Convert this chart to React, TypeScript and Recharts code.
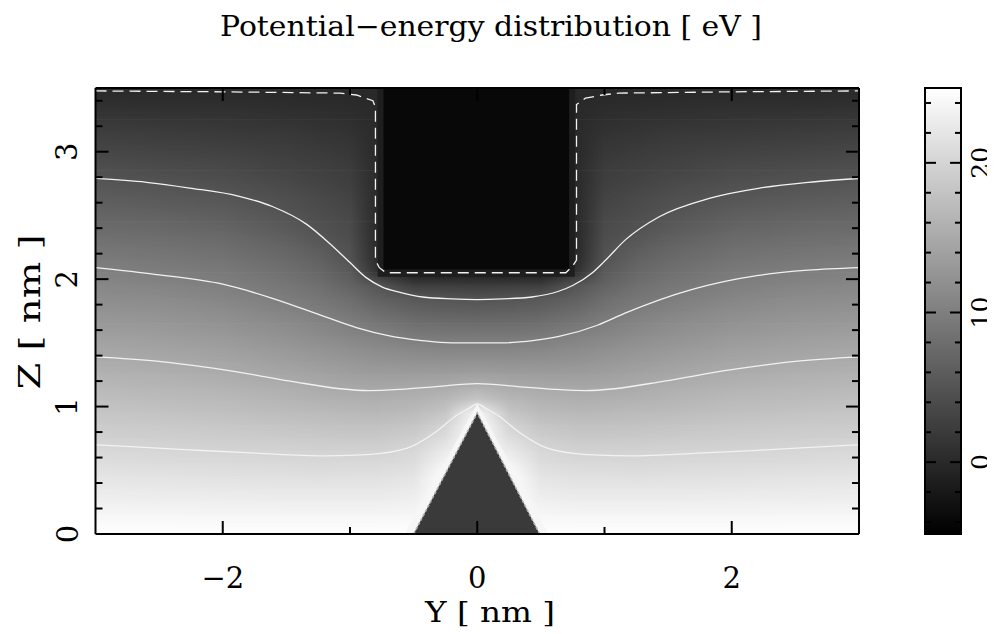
import React from 'react';
import { ComposedChart, XAxis, YAxis, ReferenceArea, Line, Area } from 'recharts';

// ---------- data ----------
const V_MIN = -4.8;
const V_MAX = 25;

// half-grid columns (Y >= 0, mirrored for Y < 0)
const yCols = [0, 0.25, 0.5, 0.8, 1.0, 1.25, 1.5, 2.0, 2.5, 3.0];
const zRows = [0.05, 0.15, 0.25, 0.35, 0.45, 0.55, 0.65, 0.75, 0.85, 0.95, 1.05, 1.15, 1.25, 1.35, 1.45, 1.55, 1.65, 1.75, 1.85, 1.95, 2.05, 2.15, 2.25, 2.35, 2.45, 2.55, 2.65, 2.75, 2.85, 2.95, 3.05, 3.15, 3.25, 3.35, 3.45];
const potentialRows = [
  [25, 25, 24.7, 24.6, 24.6, 24.6, 24.6, 24.6, 24.6, 24.6],
  [25, 25, 24.0, 23.8, 23.8, 23.8, 23.8, 23.8, 23.9, 23.9],
  [25, 25, 23.3, 23.0, 23.0, 23.0, 23.0, 23.1, 23.1, 23.2],
  [25, 25, 22.5, 22.2, 22.2, 22.2, 22.2, 22.3, 22.4, 22.5],
  [25, 25, 21.8, 21.4, 21.4, 21.3, 21.4, 21.5, 21.7, 21.8],
  [25, 23.8, 21.0, 20.6, 20.6, 20.5, 20.6, 20.8, 20.9, 21.1],
  [25, 22.5, 20.3, 19.7, 19.7, 19.7, 19.8, 20.0, 20.2, 20.4],
  [25, 21.2, 19.3, 18.7, 18.7, 18.8, 18.9, 19.2, 19.4, 19.6],
  [25, 19.8, 18.2, 17.7, 17.7, 17.9, 18.1, 18.4, 18.7, 18.9],
  [24.0, 18.3, 17.1, 16.7, 16.8, 17.0, 17.2, 17.6, 18.0, 18.2],
  [18.5, 16.7, 16.0, 15.7, 15.8, 16.0, 16.3, 16.9, 17.2, 17.5],
  [15.9, 15.2, 14.9, 14.7, 14.8, 15.1, 15.5, 16.1, 16.5, 16.7],
  [13.9, 13.7, 13.6, 13.6, 13.8, 14.2, 14.6, 15.3, 15.8, 16.0],
  [12.3, 12.2, 12.3, 12.5, 12.8, 13.3, 13.8, 14.6, 15.0, 15.3],
  [10.8, 10.8, 11.0, 11.5, 11.9, 12.5, 13.0, 13.8, 14.3, 14.6],
  [9.3, 9.3, 9.6, 10.4, 10.9, 11.6, 12.2, 13.1, 13.6, 13.9],
  [7.8, 7.9, 8.2, 9.1, 9.9, 10.7, 11.4, 12.3, 12.8, 13.1],
  [6.3, 6.4, 6.8, 7.8, 8.9, 9.8, 10.5, 11.6, 12.1, 12.4],
  [4.8, 5.0, 5.4, 6.5, 7.9, 9.0, 9.7, 10.8, 11.4, 11.7],
  [2.2, 2.3, 2.5, 5.2, 6.8, 8.2, 9.0, 10.1, 10.6, 11.0],
  [-1.5, -1.5, -1.5, 1.5, 5.8, 7.4, 8.3, 9.4, 9.9, 10.3],
  [-4.3, -4.3, -4.3, 0.6, 4.9, 6.6, 7.6, 8.7, 9.2, 9.6],
  [-4.3, -4.3, -4.3, 0.4, 4.5, 5.8, 6.9, 8.0, 8.5, 8.9],
  [-4.3, -4.3, -4.3, 0.4, 4.1, 5.0, 6.1, 7.3, 7.8, 8.1],
  [-4.3, -4.3, -4.3, 0.4, 3.8, 4.6, 5.4, 6.5, 7.1, 7.4],
  [-4.3, -4.3, -4.3, 0.3, 3.4, 4.1, 4.8, 5.8, 6.3, 6.7],
  [-4.3, -4.3, -4.3, 0.3, 3.0, 3.7, 4.3, 5.1, 5.6, 6.0],
  [-4.3, -4.3, -4.3, 0.3, 2.6, 3.2, 3.7, 4.5, 4.9, 5.3],
  [-4.3, -4.3, -4.3, 0.3, 2.3, 2.8, 3.2, 3.9, 4.2, 4.6],
  [-4.3, -4.3, -4.3, 0.2, 1.9, 2.3, 2.7, 3.3, 3.5, 3.8],
  [-4.3, -4.3, -4.3, 0.2, 1.5, 1.9, 2.2, 2.6, 2.8, 3.1],
  [-4.3, -4.3, -4.3, 0.2, 1.1, 1.4, 1.7, 2.0, 2.2, 2.4],
  [-4.3, -4.3, -4.3, 0.1, 0.7, 0.9, 1.1, 1.4, 1.5, 1.7],
  [-4.3, -4.3, -4.3, 0.1, 0.4, 0.5, 0.6, 0.8, 0.8, 0.9],
  [-4.3, -4.3, -4.3, 0.0, 0.0, 0.0, 0.1, 0.1, 0.2, 0.2],
];

// tip (conductor) regions
const tipOuter = { y1: -0.782, y2: 0.766, z1: 2.018, z2: 3.5, v: -1.3 };
const tipInner = { y1: -0.737, y2: 0.722, z1: 2.075, z2: 3.5, v: -3.9 };

// pyramid (sample) and its bright halo
const haloTriangle = [{ y: -0.57, z: 0 }, { y: 0, z: 1.02 }, { y: 0.56, z: 0 }];
const pyramid = [{ y: -0.5, z: 0 }, { y: 0, z: 0.95 }, { y: 0.49, z: 0 }];
const PYRAMID_V = 2.0;

// contour lines (Y, Z)
const contour0 = [
  { y: -3, z: 3.477 }, { y: -2, z: 3.47 }, { y: -1.08, z: 3.46 }, { y: -0.95, z: 3.445 },
  { y: -0.82, z: 3.40 }, { y: -0.80, z: 3.35 }, { y: -0.80, z: 2.15 }, { y: -0.77, z: 2.09 },
  { y: -0.716, z: 2.05 }, { y: 0.696, z: 2.05 }, { y: 0.748, z: 2.10 }, { y: 0.78, z: 2.15 },
  { y: 0.78, z: 3.37 }, { y: 0.85, z: 3.42 }, { y: 0.98, z: 3.445 }, { y: 1.11, z: 3.46 },
  { y: 2, z: 3.47 }, { y: 3, z: 3.477 },
];
const contour5 = [
  { y: -3, z: 2.79 }, { y: -2.6, z: 2.76 }, { y: -2.26, z: 2.715 }, { y: -1.87, z: 2.65 },
  { y: -1.61, z: 2.57 }, { y: -1.34, z: 2.43 }, { y: -1.16, z: 2.28 }, { y: -1.0, z: 2.13 },
  { y: -0.87, z: 2.01 }, { y: -0.75, z: 1.94 }, { y: -0.6, z: 1.895 }, { y: -0.43, z: 1.86 },
  { y: -0.2, z: 1.845 }, { y: 0, z: 1.84 }, { y: 0.2, z: 1.845 }, { y: 0.43, z: 1.86 },
  { y: 0.64, z: 1.905 }, { y: 0.75, z: 1.95 }, { y: 0.905, z: 2.05 }, { y: 1.0, z: 2.14 },
  { y: 1.166, z: 2.31 }, { y: 1.43, z: 2.49 }, { y: 1.83, z: 2.636 }, { y: 2.22, z: 2.715 },
  { y: 2.6, z: 2.76 }, { y: 3, z: 2.79 },
];
const contour10 = [
  { y: -3, z: 2.09 }, { y: -2.52, z: 2.036 }, { y: -2.0, z: 1.96 }, { y: -1.61, z: 1.85 },
  { y: -1.21, z: 1.71 }, { y: -0.95, z: 1.62 }, { y: -0.69, z: 1.555 }, { y: -0.45, z: 1.52 },
  { y: -0.2, z: 1.50 }, { y: 0, z: 1.50 }, { y: 0.2, z: 1.50 }, { y: 0.45, z: 1.52 },
  { y: 0.643, z: 1.55 }, { y: 0.95, z: 1.64 }, { y: 1.166, z: 1.735 }, { y: 1.69, z: 1.92 },
  { y: 2.21, z: 2.03 }, { y: 2.6, z: 2.07 }, { y: 3, z: 2.09 },
];
const contour15 = [
  { y: -3, z: 1.39 }, { y: -2.52, z: 1.357 }, { y: -2.0, z: 1.29 }, { y: -1.47, z: 1.20 },
  { y: -1.08, z: 1.14 }, { y: -0.85, z: 1.125 }, { y: -0.6, z: 1.135 }, { y: -0.32, z: 1.157 },
  { y: 0, z: 1.18 }, { y: 0.32, z: 1.157 }, { y: 0.6, z: 1.135 }, { y: 0.85, z: 1.125 },
  { y: 1.08, z: 1.14 }, { y: 1.47, z: 1.20 }, { y: 2.0, z: 1.29 }, { y: 2.52, z: 1.357 },
  { y: 3, z: 1.39 },
];
const contour20 = [
  { y: -3, z: 0.70 }, { y: -2.26, z: 0.66 }, { y: -1.74, z: 0.634 }, { y: -1.21, z: 0.613 },
  { y: -0.95, z: 0.619 }, { y: -0.77, z: 0.63 }, { y: -0.51, z: 0.69 }, { y: -0.3, z: 0.82 },
  { y: -0.17, z: 0.926 }, { y: -0.076, z: 0.98 }, { y: 0, z: 1.02 }, { y: 0.076, z: 0.98 },
  { y: 0.17, z: 0.926 }, { y: 0.3, z: 0.82 }, { y: 0.51, z: 0.69 }, { y: 0.77, z: 0.63 },
  { y: 0.95, z: 0.619 }, { y: 1.21, z: 0.613 }, { y: 1.74, z: 0.634 }, { y: 2.26, z: 0.66 },
  { y: 3, z: 0.70 },
];

// axes
const xTicks = [-2, -1, 0, 1, 2];
const xLabels = [-2, 0, 2];
const zTicks = [0, 0.2, 0.4, 0.6, 0.8, 1, 1.2, 1.4, 1.6, 1.8, 2, 2.2, 2.4, 2.6, 2.8, 3, 3.2, 3.4];
const zLabels = [0, 1, 2, 3];
const cbTicks = [-4, -2, 0, 2, 4, 6, 8, 10, 12, 14, 16, 18, 20, 22, 24];
const cbLabels = [0, 10, 20];
const cbLevels = [V_MIN, V_MAX];

// ---------- helpers ----------
const FONT = "'DejaVu Serif', serif";
const gray = (v: number) => {
  const t = Math.max(0, Math.min(1, (v - V_MIN) / (V_MAX - V_MIN)));
  const g = Math.round(t * 255);
  return `rgb(${g},${g},${g})`;
};
const fmt = (v: number) => (v < 0 ? `\u2212${Math.abs(v)}` : `${v}`);
const isIn = (arr: number[], v: number) => arr.some((a) => Math.abs(a - v) < 1e-6);

const rowStops = (row: number[]) => {
  const pts: { y: number; v: number }[] = [];
  for (let i = yCols.length - 1; i > 0; i--) pts.push({ y: -yCols[i], v: row[i] });
  for (let i = 0; i < yCols.length; i++) pts.push({ y: yCols[i], v: row[i] });
  return pts;
};

// bands: each spans from one row centre to the next, blending the two rows vertically
const bands = [
  { z1: 0, z2: zRows[0], lo: 0, hi: -1 },
  ...zRows.slice(0, -1).map((z, i) => ({ z1: z, z2: zRows[i + 1], lo: i, hi: i + 1 })),
  { z1: zRows[zRows.length - 1], z2: 3.5, lo: zRows.length - 1, hi: -1 },
];

const bandShape = (lo: number, hi: number) => (p: any) => (
  <g>
    <rect x={p.x} y={p.y} width={p.width} height={p.height} fill={`url(#row${lo})`} />
    {hi >= 0 && (
      <rect x={p.x} y={p.y} width={p.width} height={p.height} fill={`url(#row${hi})`} mask="url(#fadeUp)" />
    )}
  </g>
);

const makeXTick = (side: 'bottom' | 'top') => (props: any) => {
  const { x, y, payload } = props;
  const v = payload.value;
  const major = isIn(xLabels, v);
  const len = major ? 13 : 7;
  const d = side === 'bottom' ? -1 : 1;
  return (
    <g>
      <line x1={x} x2={x} y1={y} y2={y + d * len} stroke="#000" strokeWidth={2} />
      {side === 'bottom' && major && (
        <text x={x} y={y + 54} textAnchor="middle" fontFamily={FONT} fontSize={29} fill="#000">
          {fmt(v)}
        </text>
      )}
    </g>
  );
};

const makeZTick = (side: 'left' | 'right') => (props: any) => {
  const { x, y, payload } = props;
  const v = payload.value;
  const major = isIn(zLabels, v);
  const len = major ? 13 : 7;
  const d = side === 'left' ? 1 : -1;
  const bx = x - 18;
  return (
    <g>
      {v !== 0 && <line x1={x} x2={x + d * len} y1={y} y2={y} stroke="#000" strokeWidth={2} />}
      {side === 'left' && major && (
        <text x={bx} y={y} transform={`rotate(-90, ${bx}, ${y})`} textAnchor="middle"
          fontFamily={FONT} fontSize={29} fill="#000">
          {fmt(v)}
        </text>
      )}
    </g>
  );
};

const makeCbTick = (side: 'left' | 'right') => (props: any) => {
  const { x, y, payload } = props;
  const v = payload.value;
  const major = isIn(cbLabels, v);
  const len = major ? 11 : 6;
  const d = side === 'left' ? 1 : -1;
  const bx = x + 28;
  return (
    <g>
      <line x1={x} x2={x + d * len} y1={y} y2={y} stroke="#000" strokeWidth={2} />
      {side === 'right' && major && (
        <text x={bx} y={y} transform={`rotate(-90, ${bx}, ${y})`} textAnchor="middle"
          fontFamily={FONT} fontSize={25} fill="#000">
          {fmt(v)}
        </text>
      )}
    </g>
  );
};

const axisLine = { stroke: '#000', strokeWidth: 2 };
const M = { top: 79, left: 86.5, right: 28, bottom: 99 };

const MainChart = () => (
  <ComposedChart width={880} height={626} margin={M}>
    <defs>
      {potentialRows.map((row, i) => (
        <linearGradient key={i} id={`row${i}`} x1="0" y1="0" x2="1" y2="0">
          {rowStops(row).map((p, j) => (
            <stop key={j} offset={(p.y + 3) / 6} stopColor={gray(p.v)} />
          ))}
        </linearGradient>
      ))}
      <linearGradient id="fadeGrad" x1="0" y1="1" x2="0" y2="0">
        <stop offset={0} stopColor="#000" />
        <stop offset={1} stopColor="#fff" />
      </linearGradient>
      <mask id="fadeUp" maskUnits="objectBoundingBox" maskContentUnits="objectBoundingBox"
        x="0" y="0" width="1" height="1">
        <rect x="0" y="0" width="1" height="1" fill="url(#fadeGrad)" />
      </mask>
    </defs>
    <XAxis xAxisId="b" dataKey="y" type="number" domain={[-3, 3]} ticks={xTicks} interval={0}
      orientation="bottom" height={1} tickSize={0} tickMargin={0} tickLine={false}
      axisLine={axisLine} tick={makeXTick('bottom')} allowDataOverflow />
    <XAxis xAxisId="t" dataKey="y" type="number" domain={[-3, 3]} ticks={xTicks} interval={0}
      orientation="top" height={1} tickSize={0} tickMargin={0} tickLine={false}
      axisLine={axisLine} tick={makeXTick('top')} allowDataOverflow />
    <YAxis yAxisId="l" dataKey="z" type="number" domain={[0, 3.5]} ticks={zTicks} interval={0}
      orientation="left" width={1} tickSize={0} tickMargin={0} tickLine={false}
      axisLine={axisLine} tick={makeZTick('left')} allowDataOverflow />
    <YAxis yAxisId="r" dataKey="z" type="number" domain={[0, 3.5]} ticks={zTicks} interval={0}
      orientation="right" width={1} tickSize={0} tickMargin={0} tickLine={false}
      axisLine={axisLine} tick={makeZTick('right')} allowDataOverflow />

    {bands.map((b, i) => (
      <ReferenceArea key={`b${i}`} xAxisId="b" yAxisId="l" x1={-3} x2={3}
        y1={b.z1} y2={Math.min(3.5, b.z2 + 0.004)} ifOverflow="visible"
        shape={bandShape(b.lo, b.hi)} />
    ))}
    <ReferenceArea xAxisId="b" yAxisId="l" x1={tipOuter.y1} x2={tipOuter.y2} y1={tipOuter.z1} y2={tipOuter.z2}
      fill={gray(tipOuter.v)} fillOpacity={1} stroke="none" ifOverflow="visible" />
    <ReferenceArea xAxisId="b" yAxisId="l" x1={tipInner.y1} x2={tipInner.y2} y1={tipInner.z1} y2={tipInner.z2}
      fill={gray(tipInner.v)} fillOpacity={1} stroke="none" ifOverflow="visible" />

    <Area xAxisId="b" yAxisId="l" data={haloTriangle} dataKey="z" type="linear" fill="#f6f6f6"
      fillOpacity={1} stroke="none" isAnimationActive={false} dot={false} activeDot={false} />
    <Area xAxisId="b" yAxisId="l" data={pyramid} dataKey="z" type="linear" fill={gray(PYRAMID_V)}
      fillOpacity={1} stroke="#b0b0b0" strokeWidth={1.6} strokeDasharray="3 2" isAnimationActive={false}
      dot={false} activeDot={false} />

    {[contour5, contour10, contour15, contour20].map((c, i) => (
      <Line key={`c${i}`} xAxisId="b" yAxisId="l" data={c} dataKey="z" type="monotone"
        stroke="#f2f2f2" strokeWidth={1.3} dot={false} activeDot={false} isAnimationActive={false} />
    ))}
    <Line xAxisId="b" yAxisId="l" data={contour0} dataKey="z" type="linear"
      stroke="#f2f2f2" strokeWidth={1.3} strokeDasharray="11 6" dot={false} activeDot={false}
      isAnimationActive={false} />
  </ComposedChart>
);

const cbData = cbLevels.map((v) => ({ x: 0.5, v }));

const ColorBar = () => (
  <ComposedChart width={107} height={626} data={cbData} margin={{ top: 80, left: 36, right: 33, bottom: 100 }}>
    <defs>
      <linearGradient id="cbGrad" x1="0" y1="1" x2="0" y2="0">
        {cbLevels.map((v, i) => (
          <stop key={i} offset={(v - V_MIN) / (V_MAX - V_MIN)} stopColor={gray(v)} />
        ))}
      </linearGradient>
    </defs>
    <XAxis xAxisId="x" dataKey="x" type="number" domain={[0, 1]} hide allowDataOverflow />
    <YAxis yAxisId="l" dataKey="v" type="number" domain={[V_MIN, V_MAX]} ticks={cbTicks} interval={0}
      orientation="left" width={1} tickSize={0} tickMargin={0} tickLine={false}
      axisLine={false} tick={makeCbTick('left')} allowDataOverflow />
    <YAxis yAxisId="r" dataKey="v" type="number" domain={[V_MIN, V_MAX]} ticks={cbTicks} interval={0}
      orientation="right" width={1} tickSize={0} tickMargin={0} tickLine={false}
      axisLine={false} tick={makeCbTick('right')} allowDataOverflow />
    <ReferenceArea xAxisId="x" yAxisId="l" x1={0} x2={1} y1={V_MIN} y2={V_MAX}
      fill="url(#cbGrad)" fillOpacity={1} stroke="#000" strokeWidth={2} ifOverflow="visible" />
    <Line xAxisId="x" yAxisId="l" dataKey="v" stroke="none" dot={false} activeDot={false}
      isAnimationActive={false} />
  </ComposedChart>
);

export default function App() {
  return (
    <div style={{ position: 'relative', width: 987, height: 626 }}>
      <div style={{ position: 'absolute', left: 0, top: 0 }}>
        <MainChart />
      </div>
      <div style={{ position: 'absolute', left: 880, top: 0 }}>
        <ColorBar />
      </div>
      <svg width={987} height={626} style={{ position: 'absolute', left: 0, top: 0, pointerEvents: 'none' }}>
        <text x={483} y={28} textAnchor="middle" fontFamily={FONT} fontSize={28} fill="#000"
          textLength={542} lengthAdjust="spacingAndGlyphs">
          Potential−energy distribution [ eV ]
        </text>
        <text x={482} y={614} textAnchor="middle" fontFamily={FONT} fontSize={28} fill="#000"
          textLength={130} lengthAdjust="spacingAndGlyphs">
          Y [ nm ]
        </text>
        <text x={32} y={304} transform="rotate(-90, 32, 304)" textAnchor="middle" fontFamily={FONT}
          fontSize={30} fill="#000" textLength={155} lengthAdjust="spacingAndGlyphs">
          Z [ nm ]
        </text>
      </svg>
    </div>
  );
}
